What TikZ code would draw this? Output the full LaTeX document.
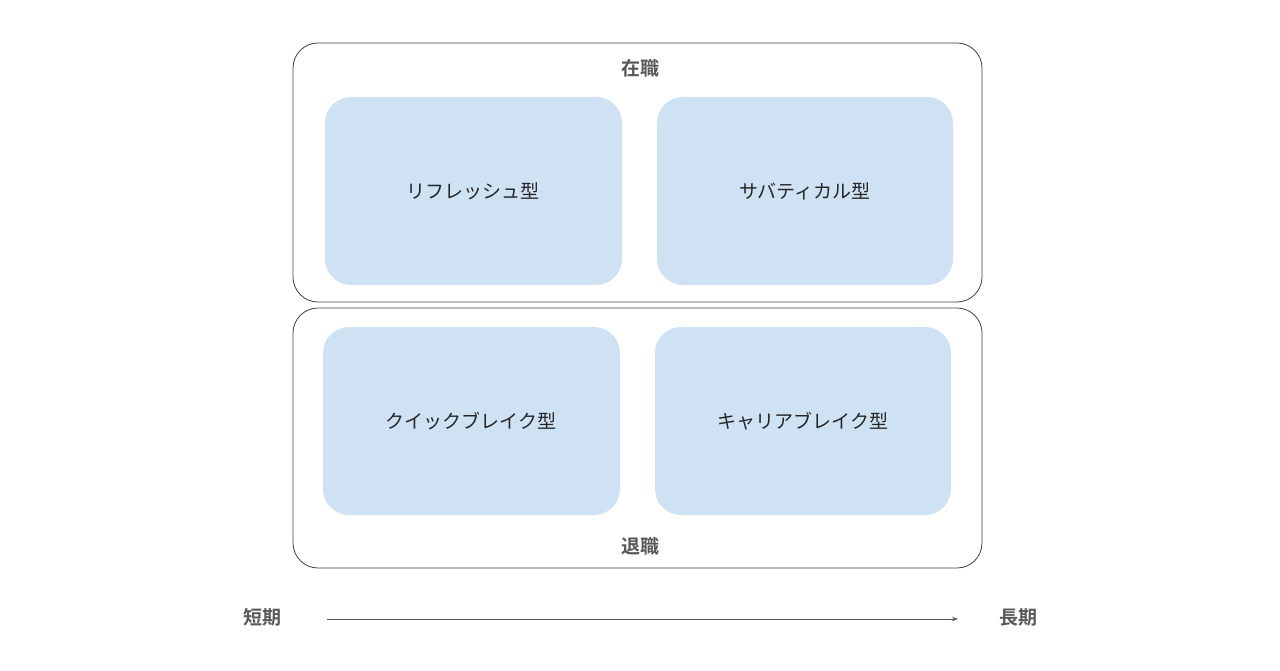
\documentclass[tikz,border=0pt]{standalone}
\usepackage{fontspec}
\newfontfamily\cjk{Noto Sans CJK JP}
\newfontfamily\cjkb{Noto Sans CJK JP Bold}
\usetikzlibrary{arrows.meta}
\begin{document}
\begin{tikzpicture}[x=1pt,y=-1pt,
 outer/.style={draw=black!75,line width=0.8pt,rounded corners=25pt},
 inner/.style={fill=blue!20!cyan!10!white,fill=bluebox,rounded corners=26pt},
 lbl/.style={font=\cjk\fontsize{19}{22}\selectfont,text=black!85},
 hdr/.style={font=\cjkb\fontsize{19}{22}\selectfont,text=black!65}]
\definecolor{bluebox}{HTML}{CFE2F3}
\useasboundingbox (0,0) rectangle (1280,671);
\draw[outer] (293,43) rectangle (982,302);
\draw[outer] (293,308) rectangle (982,568);
\fill[inner] (325,97) rectangle (622,285);
\fill[inner] (657,97) rectangle (953,285);
\fill[inner] (323,327) rectangle (620,515);
\fill[inner] (655,327) rectangle (951,515);
\node[lbl] (a) at (473,191) {リフレッシュ型};
\node[lbl] (b) at (805,191) {サバティカル型};
\node[lbl] (c) at (471,421) {クイックブレイク型};
\node[lbl] (d) at (803,421) {キャリアブレイク型};
\node[hdr] (t) at (640,68) {在職};
\node[hdr] (r) at (640,546) {退職};
\node[hdr] (s) at (262,617) {短期};
\node[hdr] (l) at (1018,617) {長期};
\coordinate (p) at (327,619);
\coordinate (q) at (958,619);
\draw[black!65,line width=0.8pt,-{Stealth[length=6pt]}] (p) -- (q);
\end{tikzpicture}
\end{document}
